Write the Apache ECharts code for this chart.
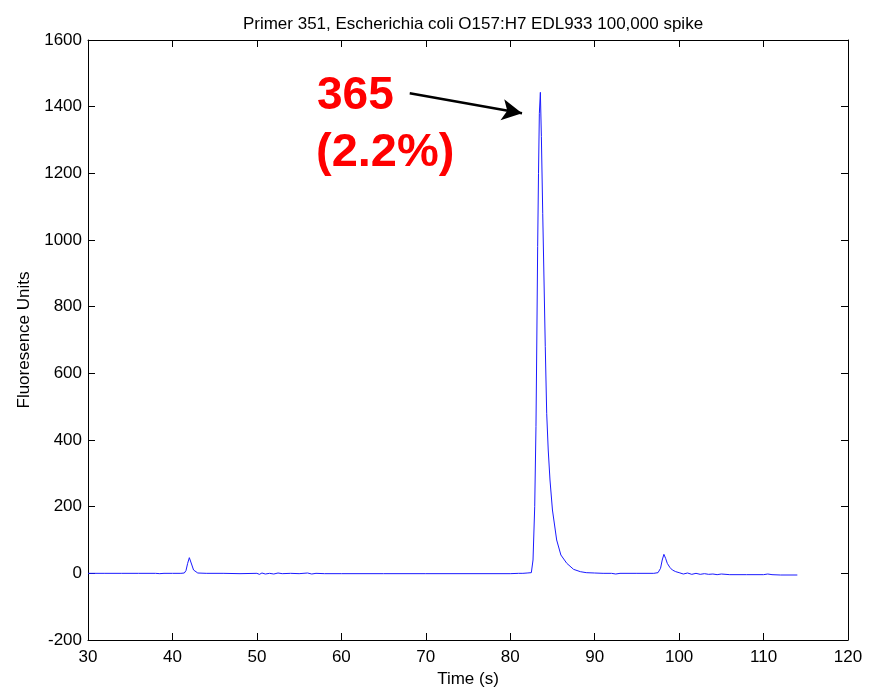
<!DOCTYPE html>
<html>
<head>
<meta charset="utf-8">
<script src="https://cdn.jsdelivr.net/npm/echarts@6/dist/echarts.min.js"></script>
<style>
  html, body { margin: 0; padding: 0; background: #fff; }
  #chart { width: 877px; height: 687px; }
</style>
</head>
<body>
<div id="chart"></div>
<script>
// Electropherogram trace: time (s) and fluorescence units
const traceTime = [
  30, 32, 34, 36, 38, 38.5, 39, 40, 41, 41.4, 41.6, 41.8, 42.0, 42.1, 42.3, 42.5, 42.7, 43, 44, 46, 48,
  50, 50.3, 50.6, 51, 51.5, 52, 52.5, 53, 54, 55, 56, 56.5, 57, 58, 60, 65, 70, 75, 80, 81, 81.5, 82,
  82.5, 82.7, 82.9, 83.05, 83.15, 83.25, 83.35, 83.45, 83.57, 83.69, 83.85, 84.0, 84.15, 84.32, 84.5,
  84.71, 85.0, 85.5, 86.0, 86.7, 87.5, 88.3, 89, 90, 91, 92, 92.5, 93, 95, 97, 97.5, 97.8, 98.0, 98.2,
  98.4, 98.6, 98.9, 99.2, 99.6, 100, 100.5, 101, 101.5, 102, 102.5, 103, 103.5, 104, 104.5, 105, 106,
  108, 110, 110.5, 111, 112, 114
];
const traceFU = [
  0, 0, 0, 0, 0, -1, 0, 0, 0, 1, 8, 30, 47, 44, 25, 10, 4, 1, 0, 0, -1,
  0, -3, 1, -2, 0, -2, 1, -1, 0, -1, 1, -2, 0, -1, -1, -1, -1, -1, -1, 0, 0, 1,
  2, 40, 200, 440, 700, 980, 1200, 1380, 1443, 1310, 1080, 880, 680, 480, 370,
  280, 190, 100, 55, 30, 12, 5, 2, 1, 0, 0, -2, 0, 0, 0, 2, 15, 40, 57,
  45, 30, 18, 10, 5, 2, -2, 1, -3, 0, -3, -1, -3, -2, -4, -2, -4,
  -4, -4, -2, -4, -5, -5
];

// Axis ranges and ticks
const xTicks = [30, 40, 50, 60, 70, 80, 90, 100, 110, 120];
const yTicks = [-200, 0, 200, 400, 600, 800, 1000, 1200, 1400, 1600];

// Peak annotation
const peakLabel = ['365', '(2.2%)'];
const arrowFrom = [68.1, 1440];
const arrowTo = [81.4, 1380];

const titleText = 'Primer 351, Escherichia coli O157:H7 EDL933 100,000 spike';
const xName = 'Time (s)';
const yName = 'Fluoresence Units';

const seriesData = traceTime.map((t, i) => [t, traceFU[i]]);

const FONT = 'Liberation Sans, Arial, sans-serif';
const tickStyle = { show: true, inside: true, length: 7, lineStyle: { color: '#000', width: 1 } };
const axisLineStyle = { show: true, onZero: false, lineStyle: { color: '#000', width: 1 } };
const plainNumber = v => String(v);

const chart = echarts.init(document.getElementById('chart'), null, { renderer: 'canvas' });

chart.setOption({
  backgroundColor: '#fff',
  animation: false,
  title: {
    text: titleText,
    left: 468, top: 11, textAlign: 'center',
    textStyle: { fontFamily: FONT, fontSize: 17, fontWeight: 'normal', color: '#000' }
  },
  grid: { left: 88, right: 29, top: 40, bottom: 47, containLabel: false, outerBoundsMode: 'none' },
  xAxis: [
    {
      type: 'value', min: xTicks[0], max: xTicks[xTicks.length - 1], interval: 10,
      position: 'bottom',
      axisLine: axisLineStyle, axisTick: tickStyle, splitLine: { show: false },
      axisLabel: { fontFamily: FONT, fontSize: 17, color: '#000', margin: 9, formatter: plainNumber },
      name: xName, nameLocation: 'middle', nameGap: 29,
      nameTextStyle: { fontFamily: FONT, fontSize: 17, color: '#000' }
    },
    {
      type: 'value', min: xTicks[0], max: xTicks[xTicks.length - 1], interval: 10,
      position: 'top',
      axisLine: axisLineStyle, axisTick: tickStyle, splitLine: { show: false },
      axisLabel: { show: false }
    }
  ],
  yAxis: [
    {
      type: 'value', min: yTicks[0], max: yTicks[yTicks.length - 1], interval: 200,
      position: 'left',
      axisLine: axisLineStyle, axisTick: tickStyle, splitLine: { show: false },
      axisLabel: { fontFamily: FONT, fontSize: 17, color: '#000', margin: 6, formatter: plainNumber },
      name: yName, nameLocation: 'middle', nameGap: 53, nameRotate: 90,
      nameTextStyle: { fontFamily: FONT, fontSize: 17, color: '#000' }
    },
    {
      type: 'value', min: yTicks[0], max: yTicks[yTicks.length - 1], interval: 200,
      position: 'right',
      axisLine: axisLineStyle, axisTick: tickStyle, splitLine: { show: false },
      axisLabel: { show: false }
    }
  ],
  series: [
    {
      type: 'line',
      data: seriesData,
      xAxisIndex: 0, yAxisIndex: 0,
      showSymbol: false,
      lineStyle: { color: '#1a1aff', width: 1 },
      markLine: {
        silent: true,
        symbol: ['none', 'arrow'],
        symbolSize: [16, 20],
        label: { show: false },
        lineStyle: { color: '#000', width: 2.5, type: 'solid' },
        data: [[{ coord: arrowFrom }, { coord: arrowTo }]]
      }
    }
  ],
  graphic: [
    {
      type: 'text', left: 317, top: 73,
      style: { text: peakLabel[0], font: 'bold 46px ' + FONT, fill: '#ff0000' }
    },
    {
      type: 'text', left: 316, top: 130,
      style: { text: peakLabel[1], font: 'bold 47px ' + FONT, fill: '#ff0000' }
    }
  ]
});
</script>
</body>
</html>
